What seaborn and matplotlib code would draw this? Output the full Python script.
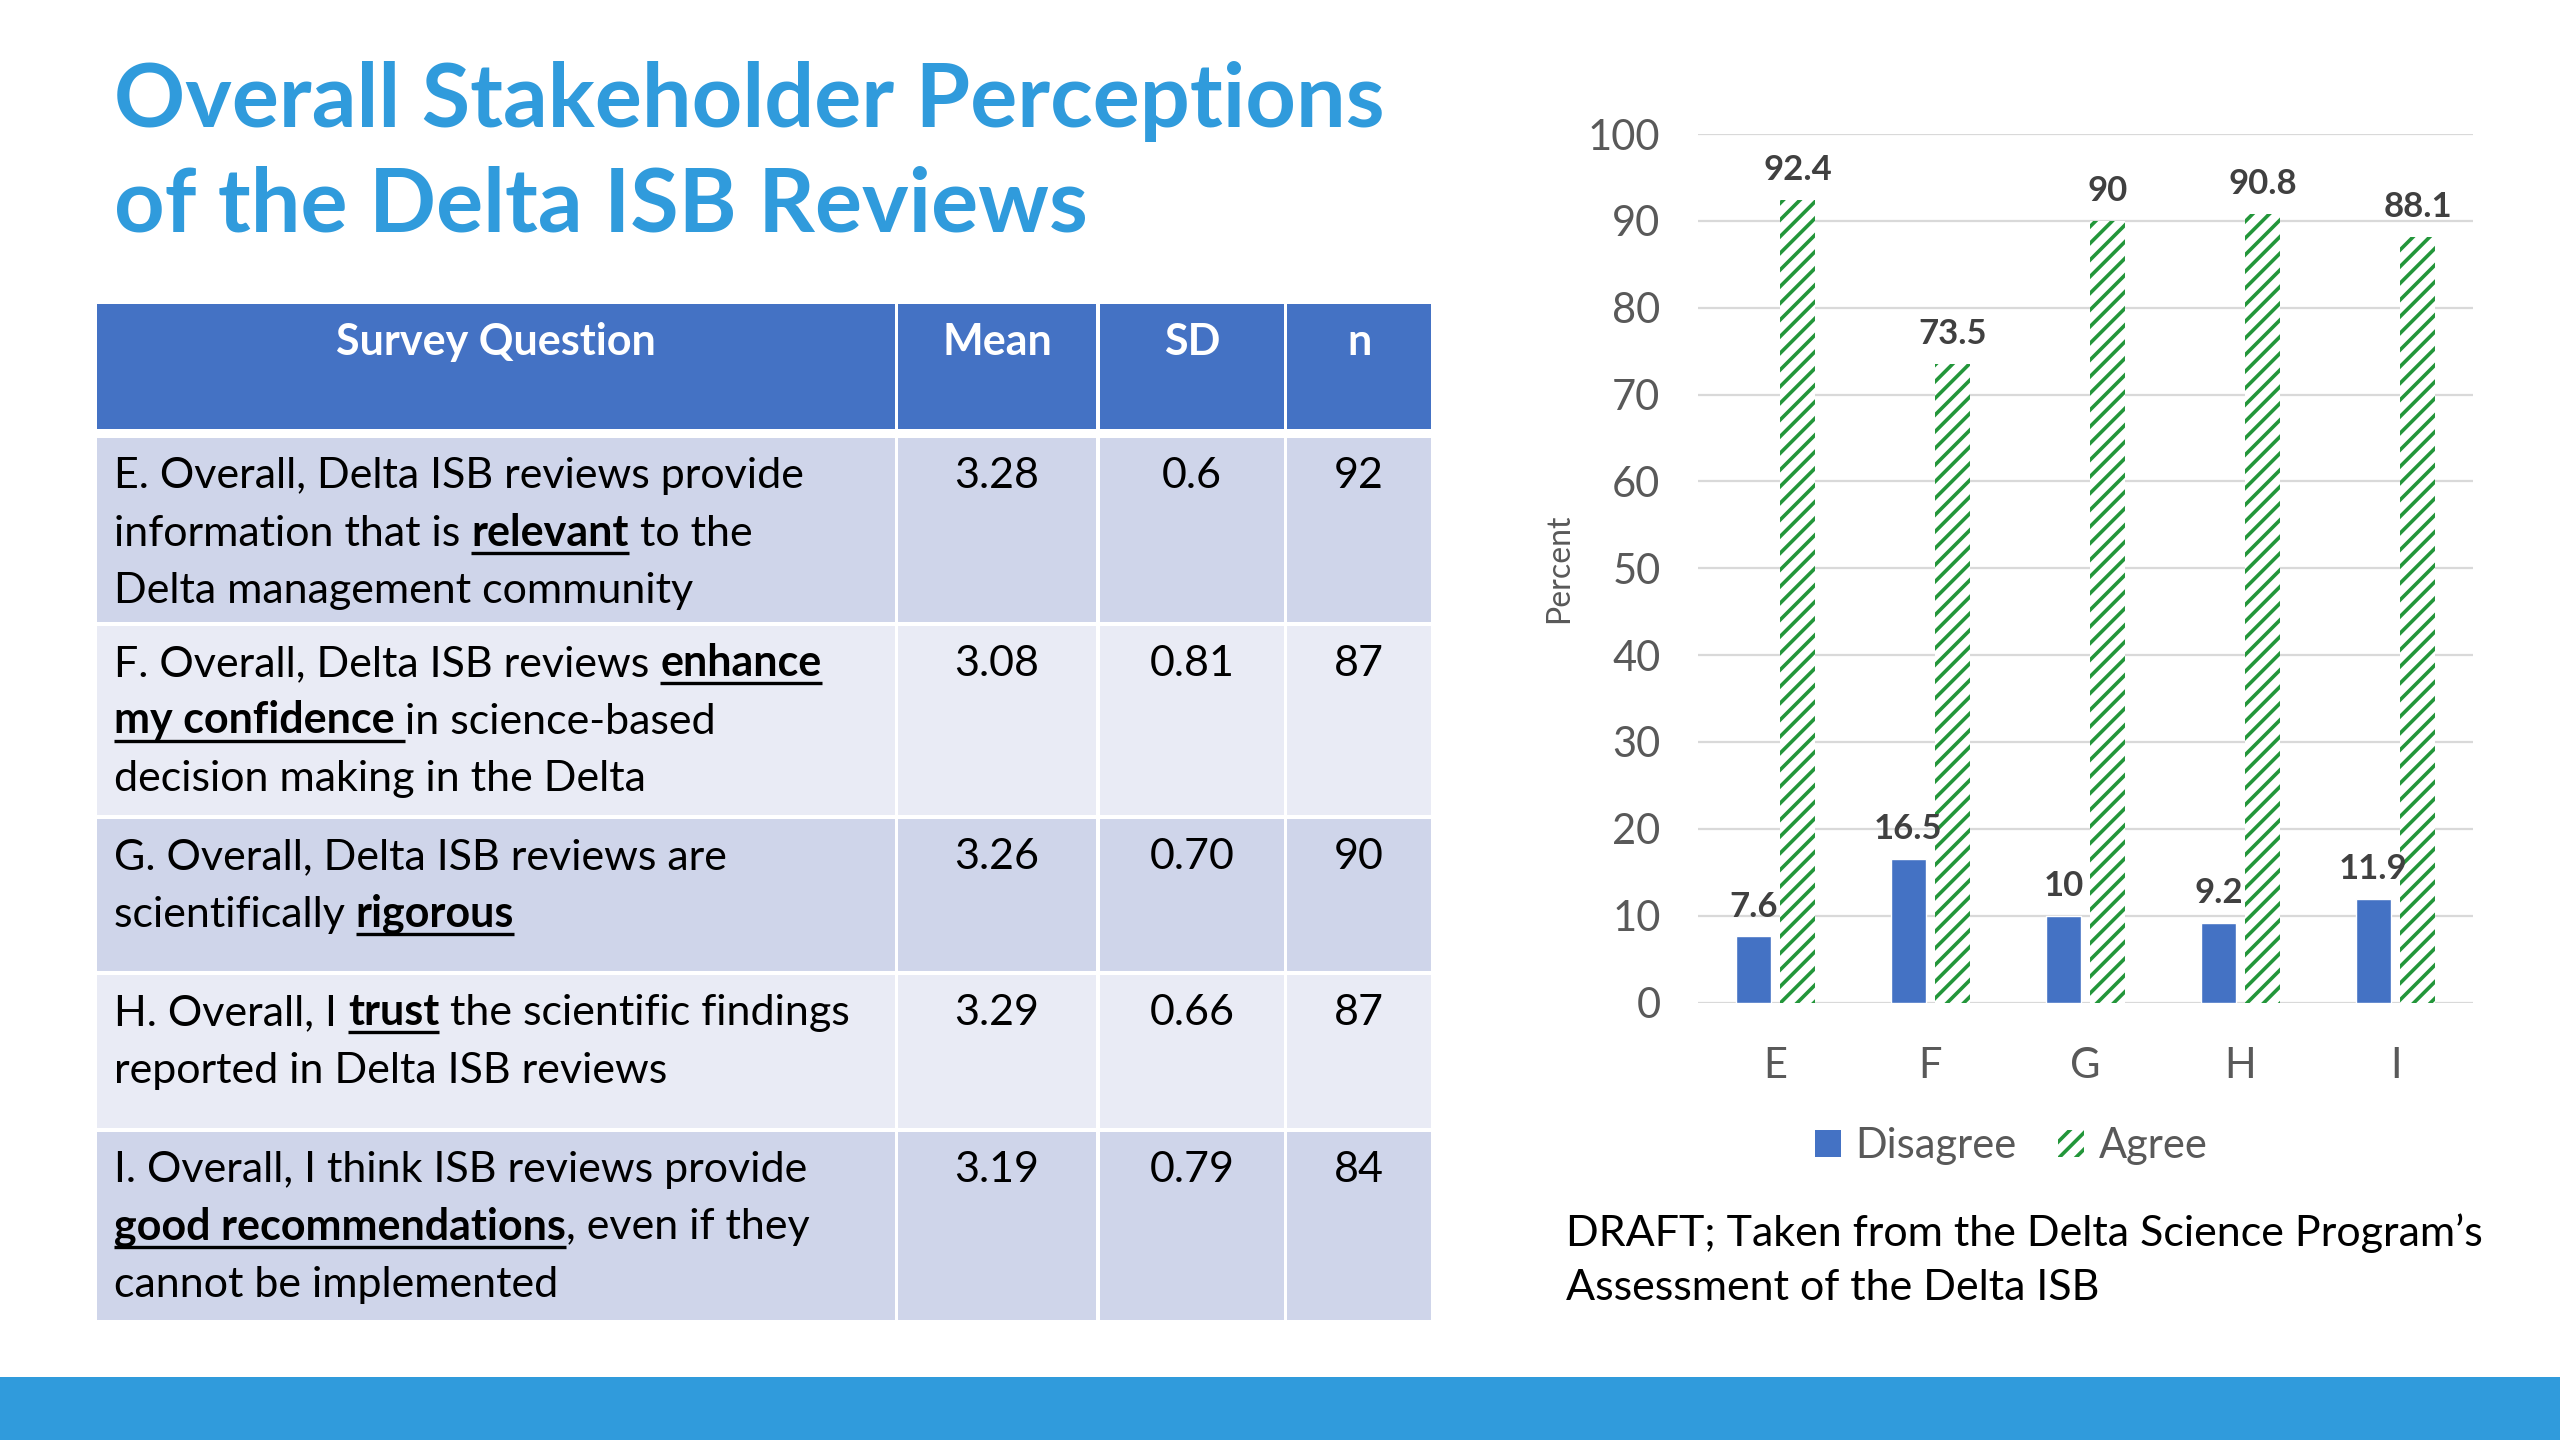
import matplotlib
matplotlib.use("Agg")
import matplotlib.pyplot as plt
from matplotlib.patches import Rectangle, Patch
import seaborn as sns
import pandas as pd

# ---------------------------------------------------------------- data
questions = ["E", "F", "G", "H", "I"]
disagree = [7.6, 16.5, 10, 9.2, 11.9]
agree = [92.4, 73.5, 90, 90.8, 88.1]

col_headers = ["Survey Question", "Mean", "SD", "n"]
means = ["3.28", "3.08", "3.26", "3.29", "3.19"]
sds = ["0.6", "0.81", "0.70", "0.66", "0.79"]
ns = ["92", "87", "90", "87", "84"]

# one list per row, one list per line, (text, bold+underlined)
question_text = [
    [[("E. Overall, Delta ISB reviews provide", False)],
     [("information that is ", False), ("relevant", True), (" to the", False)],
     [("Delta management community", False)]],
    [[("F. Overall, Delta ISB reviews ", False), ("enhance", True)],
     [("my confidence ", True), ("in science-based", False)],
     [("decision making in the Delta", False)]],
    [[("G. Overall, Delta ISB reviews are", False)],
     [("scientifically ", False), ("rigorous", True)]],
    [[("H. Overall, I ", False), ("trust", True), (" the scientific findings", False)],
     [("reported in Delta ISB reviews", False)]],
    [[("I. Overall, I think ISB reviews provide", False)],
     [("good recommendations", True), (", even if they", False)],
     [("cannot be implemented", False)]],
]

title_lines = ["Overall Stakeholder Perceptions", "of the Delta ISB Reviews"]
caption_lines = ["DRAFT; Taken from the Delta Science Program\u2019s",
                 "Assessment of the Delta ISB"]

# ---------------------------------------------------------------- style
sns.set_theme(style="white")
plt.rcParams["font.family"] = ["Lato", "DejaVu Sans"]
plt.rcParams["hatch.linewidth"] = 2.6

TITLE_BLUE = "#309BDC"
HEAD_BLUE = "#4472C4"
ROW_DARK = "#CFD5EA"
ROW_LIGHT = "#E9EBF5"
BAR_BLUE = "#4472C4"
GREEN = "#23963A"
GRAY = "#595959"

W, H = 2560, 1440
fig = plt.figure(figsize=(W / 100, H / 100), dpi=100, facecolor="white")

# background axes in pixel units for the slide elements
bg = fig.add_axes([0, 0, 1, 1])
bg.set_xlim(0, W)
bg.set_ylim(H, 0)
bg.axis("off")
renderer = fig.canvas.get_renderer()


def text_width(s, **kw):
    t = bg.text(0, 0, "|" + s + "|", **kw)
    w1 = t.get_window_extent(renderer).width
    t.set_text("||")
    w2 = t.get_window_extent(renderer).width
    t.remove()
    return w1 - w2


# title
for k, line in enumerate(title_lines):
    bg.text(114, 127 + k * 104, line, fontsize=63.5, fontweight="bold",
            color=TITLE_BLUE, va="baseline", ha="left")

# table geometry
col_l = [97, 898, 1100, 1287]
col_r = [895, 1096, 1284, 1431]
row_top = [438, 626, 819, 975, 1132]
row_bot = [622, 815, 971, 1128, 1320]
head_top, head_bot = 304, 429
TEXT_X = 114
FS = 31
LINE = 57.5

for c in range(4):
    bg.add_patch(Rectangle((col_l[c], head_top), col_r[c] - col_l[c],
                           head_bot - head_top, color=HEAD_BLUE, lw=0))
    bg.text((col_l[c] + col_r[c]) / 2, head_top + 51, col_headers[c],
            fontsize=FS, fontweight="bold", color="white",
            ha="center", va="baseline")

for r in range(len(questions)):
    fill = ROW_DARK if r % 2 == 0 else ROW_LIGHT
    for c in range(4):
        bg.add_patch(Rectangle((col_l[c], row_top[r]), col_r[c] - col_l[c],
                               row_bot[r] - row_top[r], color=fill, lw=0))
    base = row_top[r] + 50
    for c, val in zip([1, 2, 3], [means[r], sds[r], ns[r]]):
        bg.text((col_l[c] + col_r[c]) / 2, base, val, fontsize=FS,
                color="black", ha="center", va="baseline")
    for k, line in enumerate(question_text[r]):
        x = TEXT_X
        y = base + k * LINE
        for seg, under in line:
            kw = dict(fontsize=FS, fontweight="bold" if under else "normal",
                      color="black")
            lead = seg[:len(seg) - len(seg.lstrip(" "))]
            x0 = x + (text_width(lead, **kw) if lead else 0)
            bg.text(x0, y, seg.lstrip(" "), va="baseline", ha="left", **kw)
            w = text_width(seg, **kw)
            if under:
                bg.plot([x, x + w], [y + 7, y + 7], color="black", lw=2.4,
                        solid_capstyle="butt")
            x += w

# caption under the chart
for k, line in enumerate(caption_lines):
    bg.text(1566, 1246 + k * 54, line, fontsize=FS, color="black",
            ha="left", va="baseline")

# bottom band
bg.add_patch(Rectangle((0, 1377), W, H - 1377, color=TITLE_BLUE, lw=0))

# ---------------------------------------------------------------- chart
ax = fig.add_axes([1698 / W, 1 - 1002.5 / H, (2473 - 1698) / W,
                   (1002.5 - 134) / H])
df = pd.DataFrame({
    "question": questions * 2,
    "response": ["Disagree"] * len(questions) + ["Agree"] * len(questions),
    "percent": disagree + agree,
})
sns.barplot(data=df, x="question", y="percent", hue="response",
            hue_order=["Disagree", "Agree"],
            palette={"Disagree": BAR_BLUE, "Agree": GREEN},
            width=0.57, gap=0.2, saturation=1, errorbar=None,
            legend=False, ax=ax)

for p in ax.containers[1]:
    p.set_facecolor("white")
    p.set_edgecolor(GREEN)
    p.set_hatch("//")
    p.set_linewidth(0)

for cont in ax.containers:
    ax.bar_label(cont, fmt="%g", padding=10, fontsize=25,
                 fontweight="bold", color="#404040")

ax.set_ylim(0, 100)
ax.set_yticks(range(0, 101, 10))
ax.yaxis.grid(True, color="#D9D9D9", lw=1.6)
ax.set_axisbelow(True)
sns.despine(ax=ax, left=True, bottom=True)
ax.tick_params(axis="y", length=0, labelsize=30, labelcolor=GRAY, pad=27)
ax.tick_params(axis="x", length=0, labelsize=30, labelcolor=GRAY, pad=32)
ax.set_xlabel("")
ax.set_ylabel("Percent", fontsize=23, color=GRAY, labelpad=10)
ax.set_facecolor("none")

handles = [
    Patch(facecolor=BAR_BLUE, edgecolor="none", label="Disagree"),
    Patch(facecolor="white", edgecolor=GREEN, hatch="//", lw=0, label="Agree"),
]
fig.legend(handles=handles, loc="center",
           bbox_to_anchor=(2011 / W, 1 - 1146 / H), ncol=2, frameon=False,
           fontsize=30, handlelength=0.62, handleheight=0.62,
           handletextpad=0.35, columnspacing=1.0, labelcolor=GRAY)

fig.savefig("out.png", dpi=100, facecolor="white")
